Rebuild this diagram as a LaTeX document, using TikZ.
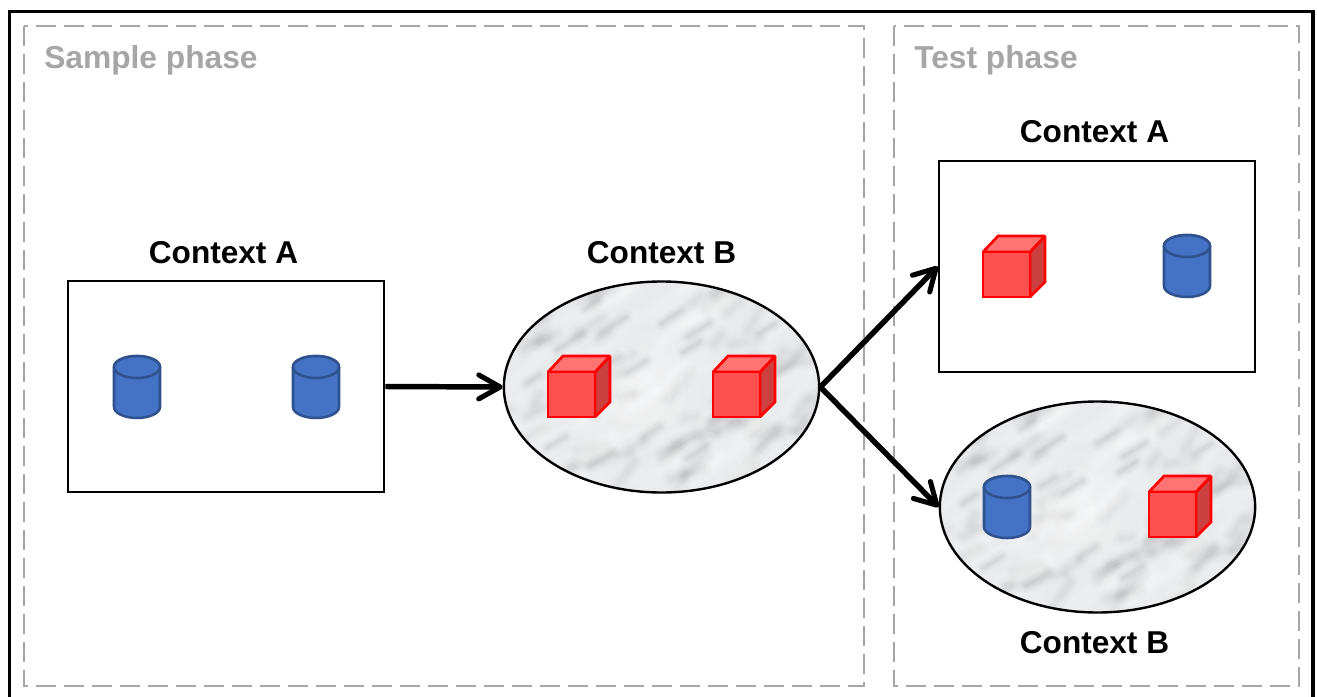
\documentclass[tikz,border=0pt]{standalone}
\usepackage{fontspec}
\setmainfont{Liberation Sans}
\usetikzlibrary{arrows.meta,shapes.geometric}
\definecolor{framegray}{HTML}{A6A6A6}
\definecolor{cubered}{HTML}{FF5050}
\definecolor{cubetop}{HTML}{FF7373}
\definecolor{cubeside}{HTML}{CC4040}
\definecolor{cylblue}{HTML}{4472C4}
\definecolor{cyltop}{HTML}{4472C4}
\definecolor{cylline}{HTML}{2F528F}
\definecolor{marblebase}{HTML}{E9EAEB}
\definecolor{marblevein}{HTML}{6A6E72}
\newcommand{\marbletexture}{%
  \begin{scope}[shift={(path picture bounding box.center)}]
    \fill[marblebase] (-170,-115) rectangle (170,115);
    \pgfmathsetseed{2024}
    \foreach \i in {1,...,75}{
      \pgfmathsetmacro{\mx}{rand*165}
      \pgfmathsetmacro{\my}{rand*110}
      \pgfmathsetmacro{\ml}{5+abs(rand)*13}
      \pgfmathsetmacro{\ma}{-36+rand*30}
      \foreach \w/\o in {17/0.022,12/0.025,8/0.03,4/0.025}{
        \draw[marblevein,line cap=round,line width=\w*0.75pt,opacity=\o]
          ([shift={(\ma:-\ml)}]\mx,\my) -- ([shift={(\ma:\ml)}]\mx,\my);
      }
    }
    \foreach \i in {1,...,70}{
      \pgfmathsetmacro{\mx}{rand*165}
      \pgfmathsetmacro{\my}{rand*110}
      \pgfmathsetmacro{\ml}{8+abs(rand)*30}
      \pgfmathsetmacro{\ma}{-38+rand*14}
      \foreach \w/\o in {18/0.07,11/0.08,6/0.08}{
        \draw[white,line cap=round,line width=\w*0.75pt,opacity=\o]
          ([shift={(\ma:-\ml)}]\mx,\my) -- ([shift={(\ma:\ml)}]\mx,\my);
      }
    }
    \foreach \r/\o in {60/0.08,46/0.10,32/0.12,20/0.14}{
      \fill[white,opacity=\o] (-22,5) circle[radius=\r];
    }
    \foreach \mx/\my/\ml in {70/-2/12,-48/-62/15,37/-57/13,-92/-45/15,10/-70/12,-128/-8/8,30/-40/10,-50/-25/9,-25/-20/12,-105/55/11,-60/72/13,35/65/12,-10/45/10,55/30/7,72/34/3,-120/-68/8,-70/-82/8,105/-58/10,125/-20/8}{
      \foreach \w/\o in {14/0.03,10/0.04,6/0.05,3/0.05}{
        \draw[marblevein,line cap=round,line width=\w*0.75pt,opacity=\o]
          ([shift={(-32:-\ml)}]\mx,\my) -- ([shift={(-32:\ml)}]\mx,\my);
      }
    }
  \end{scope}}
\tikzset{
  x=0.75pt,y=-0.75pt,
  phasebox/.style={draw=framegray,line width=1.9pt,dash pattern=on 15pt off 6pt},
  phasetitle/.style={text=framegray,font=\fontsize{23.8pt}{26pt}\bfseries,inner sep=0pt,anchor=west},
  contexttitle/.style={font=\fontsize{23.7pt}{26pt}\bfseries,inner sep=0pt},
  plainctx/.style={rectangle,draw=black,fill=white,line width=1.9pt,minimum width=237pt,minimum height=158.25pt,inner sep=0pt},
  marblectx/.style={ellipse,draw=black,line width=1.8pt,minimum width=236.5pt,minimum height=158.25pt,inner sep=0pt,path picture={\marbletexture}},
  flowarrow/.style={draw=black,line width=4.1pt,-{Straight Barb[length=16pt,width=18pt,line width=3.8pt,round]}},
  cubeedge/.style={draw=red,line width=2pt,line join=miter,miter limit=1.5},
  cylbody/.style={draw=cylline,fill=cylblue,line width=1.9pt},
  objanchor/.style={inner sep=0pt,minimum size=0pt}
}
% #1 name, #2 left, #3 top of bounding box
\newcommand{\redcube}[3]{%
  \node[objanchor] (#1) at (#2+31,#3+30.5) {};
  \begin{scope}[shift={(#2,#3)}]
    \filldraw[cubeedge,fill=cubeside] (47,16) -- (62,0) -- (62,46) -- (47,61) -- cycle;
    \filldraw[cubeedge,fill=cubetop] (0,16) -- (15,0) -- (62,0) -- (47,16) -- cycle;
    \filldraw[cubeedge,fill=cubered] (0,16) rectangle (47,61);
  \end{scope}}
\newcommand{\bluecyl}[3]{%
  \node[objanchor] (#1) at (#2+23,#3+31) {};
  \begin{scope}[shift={(#2,#3)}]
    \filldraw[cylbody] (0,11) arc[start angle=180,end angle=0,x radius=23,y radius=-11]
      -- (46,51) arc[start angle=0,end angle=-180,x radius=23,y radius=-11] -- cycle;
    \draw[cylbody,fill=cyltop] (23,11) ellipse[x radius=23,y radius=11];
  \end{scope}}
\begin{document}
\begin{tikzpicture}
  \useasboundingbox (0,0) rectangle (1317,696);
  \fill[white] (0,0) rectangle (1317,696);
  \draw[black,line width=2.4pt] (9.5,700) -- (9.5,11.5) -- (1313,11.5) -- (1313,700);
  \draw[phasebox] (24,26) rectangle (864,686);
  \draw[phasebox] (894,26) rectangle (1299,686);
  \node[phasetitle] (samplelabel) at (44,60) {Sample phase};
  \node[phasetitle] (testlabel) at (914,60) {Test phase};

  \node[plainctx] (ctxA) at (226,386.5) {};
  \node[marblectx] (ctxB) at (661.5,387) {};
  \node[plainctx] (testA) at (1097,266.5) {};
  \node[marblectx] (testB) at (1097.5,507) {};

  \node[contexttitle] (ctxAlabel) at (223.5,253) {Context A};
  \node[contexttitle] (ctxBlabel) at (661.5,253) {Context B};
  \node[contexttitle] (testAlabel) at (1094.5,132) {Context A};
  \node[contexttitle] (testBlabel) at (1094.5,643) {Context B};

  \bluecyl{cylA}{114}{356}
  \bluecyl{cylB}{293}{356}
  \redcube{cubeA}{548}{356}
  \redcube{cubeB}{713}{356}
  \redcube{cubeC}{983}{236}
  \bluecyl{cylC}{1164}{235}
  \bluecyl{cylD}{984}{476}
  \redcube{cubeD}{1149}{476}

  \draw[flowarrow] (ctxA.east) -- (ctxB.west);
  \draw[flowarrow] (ctxB.east) -- (testA.west);
  \draw[flowarrow] (ctxB.east) -- (testB.west);
\end{tikzpicture}
\end{document}
